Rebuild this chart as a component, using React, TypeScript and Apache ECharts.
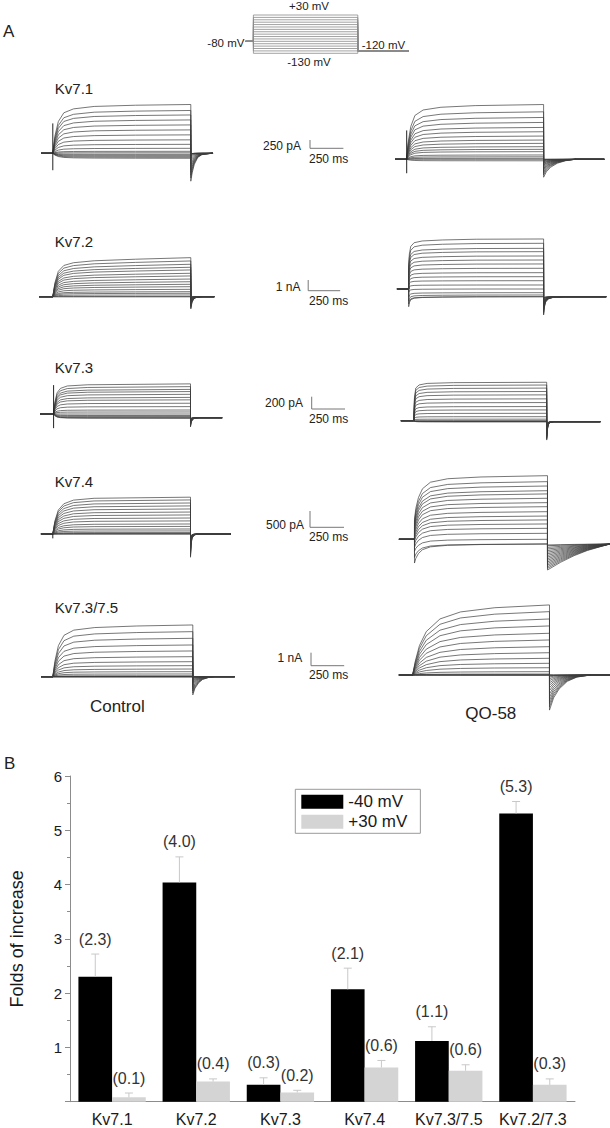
import React, { useEffect, useRef } from "react";
import * as echarts from "echarts";

const FONT = "'Liberation Sans', Arial, Helvetica, sans-serif";

// ---------------- Panel B data ----------------
const channels = ["Kv7.1", "Kv7.2", "Kv7.3", "Kv7.4", "Kv7.3/7.5", "Kv7.2/7.3"];
const fold40 = [2.3, 4.04, 0.31, 2.07, 1.12, 5.31];
const fold30 = [0.08, 0.37, 0.17, 0.63, 0.57, 0.31];
const err40 = [0.42, 0.47, 0.13, 0.39, 0.26, 0.22];
const err30 = [0.08, 0.05, 0.04, 0.13, 0.11, 0.11];
const label40 = ["(2.3)", "(4.0)", "(0.3)", "(2.1)", "(1.1)", "(5.3)"];
const label30 = ["(0.1)", "(0.4)", "(0.2)", "(0.6)", "(0.6)", "(0.3)"];
const seriesNames = ["-40 mV", "+30 mV"];

// ---------------- Panel A: voltage protocol (mV, ms) ----------------
const stepVoltages = [30, 20, 10, 0, -10, -20, -30, -40, -50, -60, -70, -80, -90, -100, -110, -120, -130];
const holdingVoltage = -80;
const tailVoltage = -120;
const protocolTimes = [-75, 0, 1000, 1488];

// ---------------- Panel A: current families (pA), sweeps +30 -> -130 mV ----------------
// Kv7.1
const kv71CtrlSteady = [1470, 1290, 1155, 1005, 855, 705, 555, 405, 270, 150, 60, 15, -30, -60, -90, -120, -150];
const kv71CtrlTail = [-840, -740, -660, -575, -490, -400, -320, -230, -160, -90, -45, -20, -10, -10, -10, -10, -10];
const kv71CtrlRise = [[0, 0], [15, 0.35], [40, 0.65], [80, 0.83], [150, 0.91], [300, 0.96], [600, 0.985], [1000, 1]];
const kv71CtrlTailDecay = [[0, 0], [10, 0.3], [25, 0.6], [50, 0.85], [80, 0.95], [150, 1]];
const kv71CtrlSpike = [900, -510];

const kv71QoSteady = [1650, 1430, 1260, 1110, 960, 830, 700, 580, 480, 380, 300, 230, 130, 75, 30, 0, -45];
const kv71QoTail = [-540, -470, -415, -365, -315, -275, -230, -190, -160, -125, -100, -75, -45, -25, -10, 0, 0];
const kv71QoRise = [[0, 0], [10, 0.3], [30, 0.6], [60, 0.8], [120, 0.9], [250, 0.95], [500, 0.98], [1000, 1]];
const kv71QoTailDecay = [[0, 0], [20, 0.3], [50, 0.55], [100, 0.78], [160, 0.92], [230, 1]];
const kv71QoSpike = [870, -420];

// Kv7.2
const kv72CtrlSteady = [3650, 3340, 3030, 2750, 2500, 2190, 1940, 1650, 1400, 1160, 935, 690, 470, 320, 160, 0, 0];
const kv72CtrlTail = [-1150, -1050, -950, -860, -780, -690, -610, -520, -440, -360, -290, -215, -150, -100, -50, -20, -20];
const kv72CtrlRise = [[0, 0], [15, 0.35], [40, 0.65], [80, 0.8], [150, 0.87], [300, 0.92], [600, 0.96], [1000, 1]];
const kv72CtrlTailDecay = [[0, 0], [8, 0.5], [20, 0.8], [40, 0.95], [80, 1]];

const kv72QoSteady = [4675, 4270, 3800, 3490, 3085, 2710, 2340, 1935, 1525, 1150, 775, 375, 0, -345, -560, -720, -720];
const kv72QoInitial = [2340, 2060, 1870, 1680, 1500, 1310, 1120, 935, 750, 560, 375, 95, -280, -750, -1120, -1400, -1655];
const kv72QoTail = [-2430, -2300, -2150, -2000, -1900, -1800, -1700, -1600, -1500, -1400, -1300, -1200, -1100, -1000, -900, -850, -850];
const kv72QoTailEnd = -720;
const kv72QoRise = [[0, 0], [5, 0.4], [15, 0.7], [40, 0.85], [100, 0.92], [250, 0.96], [500, 0.99], [1000, 1]];
const kv72QoDeact = [[0, 0], [40, 0.3], [100, 0.55], [200, 0.75], [350, 0.88], [600, 0.96], [1000, 1]];
const kv72QoTailDecay = [[0, 0], [5, 0.4], [15, 0.7], [35, 0.88], [70, 0.96], [150, 1]];

// Kv7.3
const kv73CtrlSteady = [490, 445, 400, 365, 320, 270, 230, 175, 120, 65, 33, 0, -25, -40, -55, -65, -70];
const kv73CtrlTail = [-210, -200, -190, -180, -170, -160, -150, -140, -130, -120, -110, -100, -95, -90, -85, -80, -80];
const kv73CtrlTailEnd = -60;
const kv73CtrlRise = [[0, 0], [10, 0.4], [25, 0.7], [50, 0.85], [100, 0.93], [250, 0.97], [1000, 1]];
const kv73CtrlTailDecay = [[0, 0], [5, 0.5], [15, 0.8], [30, 0.95], [60, 1]];
const kv73CtrlSpike = [470, -230];

const kv73QoSteady = [625, 580, 530, 475, 420, 355, 295, 230, 175, 120, 65, 25, 0, -8, -16, -16, -16];
const kv73QoTail = [-315, -300, -285, -270, -255, -240, -225, -210, -195, -180, -165, -150, -135, -120, -105, -90, -80];
const kv73QoTailEnd = -16;
const kv73QoRise = [[0, 0], [5, 0.6], [15, 0.85], [40, 0.93], [100, 0.97], [300, 0.99], [1000, 1]];
const kv73QoTailDecay = [[0, 0], [5, 0.55], [12, 0.85], [25, 0.96], [50, 1]];

// Kv7.4
const kv74CtrlSteady = [1140, 1055, 960, 870, 775, 680, 590, 495, 405, 310, 235, 155, 95, 45, 15, 0, 0];
const kv74CtrlTail = [-720, -680, -640, -600, -560, -520, -480, -440, -400, -360, -320, -280, -240, -200, -160, -120, -100];
const kv74CtrlRise = [[0, 0], [15, 0.35], [40, 0.65], [80, 0.82], [150, 0.92], [300, 0.97], [1000, 1]];
const kv74CtrlTailDecay = [[0, 0], [4, 0.5], [10, 0.8], [25, 0.95], [50, 1]];
const kv74CtrlSpike = [0, -135];

const kv74QoSteady = [1970, 1785, 1650, 1505, 1405, 1270, 1135, 1010, 855, 720, 600, 475, 340, 185, 0, -145, -145];
const kv74QoInitial = [620, 560, 495, 435, 370, 310, 250, 185, 125, 60, 0, -60, -155, -250, -370, -560, -735];
const kv74QoTail = [-950, -900, -850, -800, -750, -700, -650, -600, -550, -500, -450, -400, -350, -300, -250, -200, -175];
const kv74QoTailEnd = -145;
const kv74QoRise = [[0, 0], [10, 0.25], [30, 0.5], [60, 0.7], [120, 0.85], [250, 0.93], [500, 0.97], [1000, 1]];
const kv74QoDeact = [[0, 0], [30, 0.3], [80, 0.6], [150, 0.8], [300, 0.93], [600, 0.98], [1000, 1]];
const kv74QoTailDecay = [[0, 0], [100, 0.3], [200, 0.55], [300, 0.75], [400, 0.9], [470, 1]];

// Kv7.3/7.5
const kv7375CtrlSteady = [3980, 3465, 2955, 2440, 1980, 1540, 1155, 850, 590, 385, 210, 75, 0, 0, 0, 0, 0];
const kv7375CtrlTail = [-1400, -1250, -1100, -950, -800, -650, -520, -400, -300, -210, -130, -60, -20, -10, -10, -10, -10];
const kv7375CtrlRise = [[0, 0], [15, 0.3], [40, 0.6], [80, 0.8], [150, 0.9], [300, 0.95], [600, 0.98], [1000, 1]];
const kv7375CtrlTailDecay = [[0, 0], [15, 0.35], [40, 0.65], [70, 0.85], [110, 0.95], [150, 1]];

const kv7375QoSteady = [5390, 4875, 4310, 3775, 3210, 2695, 2180, 1715, 1285, 900, 560, 255, 75, 0, 0, 0, 0];
const kv7375QoTail = [-2700, -2450, -2200, -1950, -1700, -1450, -1200, -980, -780, -600, -430, -280, -150, -60, -20, -10, -10];
const kv7375QoRise = [[0, 0], [20, 0.2], [50, 0.42], [100, 0.62], [200, 0.8], [350, 0.9], [600, 0.96], [1000, 1]];
const kv7375QoTailDecay = [[0, 0], [30, 0.35], [70, 0.6], [130, 0.82], [200, 0.94], [300, 1]];

// time windows (ms) of each recording
const windowsMs = {
  kv71Ctrl: [-85, 1161], kv71Qo: [-85, 1443],
  kv72Ctrl: [-100, 1170], kv72Qo: [-87, 1464],
  kv73Ctrl: [-97, 1231], kv73Qo: [-97, 1403],
  kv74Ctrl: [-86, 1292], kv74Qo: [-117, 1470],
  kv7375Ctrl: [-84, 1299], kv7375Qo: [-100, 1442],
};

type TracePanel = {
  steady: number[];
  initial?: number[];
  tail: number[];
  tailEnd?: number;
  rise: number[][];
  deact?: number[][];
  tailDecay: number[][];
  spike?: number[];
  win: number[];
  // layout (px)
  x0: number; x1: number; base: number; pxPerPa: number;
};

const tracePanels: TracePanel[] = [
  { steady: kv71CtrlSteady, tail: kv71CtrlTail, rise: kv71CtrlRise, tailDecay: kv71CtrlTailDecay, spike: kv71CtrlSpike, win: windowsMs.kv71Ctrl, x0: 52.8, x1: 190.8, base: 153.3, pxPerPa: 0.0332 },
  { steady: kv71QoSteady, tail: kv71QoTail, rise: kv71QoRise, tailDecay: kv71QoTailDecay, spike: kv71QoSpike, win: windowsMs.kv71Qo, x0: 406.7, x1: 543.6, base: 159.3, pxPerPa: 0.0332 },
  { steady: kv72CtrlSteady, tail: kv72CtrlTail, rise: kv72CtrlRise, tailDecay: kv72CtrlTailDecay, win: windowsMs.kv72Ctrl, x0: 52.8, x1: 190.8, base: 296.7, pxPerPa: 0.0107 },
  { steady: kv72QoSteady, initial: kv72QoInitial, tail: kv72QoTail, tailEnd: kv72QoTailEnd, rise: kv72QoRise, deact: kv72QoDeact, tailDecay: kv72QoTailDecay, win: windowsMs.kv72Qo, x0: 408.7, x1: 543.6, base: 289, pxPerPa: 0.0107 },
  { steady: kv73CtrlSteady, tail: kv73CtrlTail, tailEnd: kv73CtrlTailEnd, rise: kv73CtrlRise, tailDecay: kv73CtrlTailDecay, spike: kv73CtrlSpike, win: windowsMs.kv73Ctrl, x0: 53.6, x1: 190.5, base: 414, pxPerPa: 0.0615 },
  { steady: kv73QoSteady, tail: kv73QoTail, tailEnd: kv73QoTailEnd, rise: kv73QoRise, tailDecay: kv73QoTailDecay, win: windowsMs.kv73Qo, x0: 413.8, x1: 546.7, base: 420.7, pxPerPa: 0.0615 },
  { steady: kv74CtrlSteady, tail: kv74CtrlTail, rise: kv74CtrlRise, tailDecay: kv74CtrlTailDecay, spike: kv74CtrlSpike, win: windowsMs.kv74Ctrl, x0: 52.8, x1: 190.5, base: 534, pxPerPa: 0.0323 },
  { steady: kv74QoSteady, initial: kv74QoInitial, tail: kv74QoTail, tailEnd: kv74QoTailEnd, rise: kv74QoRise, deact: kv74QoDeact, tailDecay: kv74QoTailDecay, win: windowsMs.kv74Qo, x0: 414.5, x1: 547.5, base: 539.3, pxPerPa: 0.0323 },
  { steady: kv7375CtrlSteady, tail: kv7375CtrlTail, rise: kv7375CtrlRise, tailDecay: kv7375CtrlTailDecay, win: windowsMs.kv7375Ctrl, x0: 52.8, x1: 192.8, base: 676.7, pxPerPa: 0.013 },
  { steady: kv7375QoSteady, tail: kv7375QoTail, rise: kv7375QoRise, tailDecay: kv7375QoTailDecay, win: windowsMs.kv7375Qo, x0: 412.6, x1: 549.5, base: 675, pxPerPa: 0.013 },
];

function buildTrace(p: TracePanel, j: number): number[][] {
  const pts: number[][] = [];
  const S = p.steady[j];
  const I0 = p.initial ? p.initial[j] : 0;
  pts.push([p.win[0], 0], [0, 0]);
  const prof = p.deact && S < I0 ? p.deact : p.rise;
  prof.forEach(([t, f]) => pts.push([t, I0 + (S - I0) * f]));
  const P = p.tail[j];
  const F = p.tailEnd ?? 0;
  p.tailDecay.forEach(([t, f]) => pts.push([1000 + t, P + (F - P) * f]));
  pts.push([p.win[1], F]);
  return pts;
}

function txt(text: string, x: number, y: number, size: number, align = "left", color = "#222") {
  return {
    type: "text",
    x,
    y,
    silent: true,
    style: {
      text,
      fill: color,
      font: `${size}px ${FONT}`,
      align,
      textAlign: align,
      verticalAlign: "middle",
      textVerticalAlign: "middle",
    },
  };
}

function seg(x1: number, y1: number, x2: number, y2: number, color = "#777", w = 1) {
  return { type: "line", silent: true, shape: { x1, y1, x2, y2 }, style: { stroke: color, lineWidth: w } };
}

function buildOption() {
  const grids: any[] = [];
  const xAxes: any[] = [];
  const yAxes: any[] = [];
  const series: any[] = [];

  // protocol grid (index 0)
  const pX0 = 253.4, pX1 = 357.8, pk = (pX1 - pX0) / 1000;
  const mvPx = 38.3 / 160;
  grids.push({ left: pX0 + protocolTimes[0] * pk, width: (protocolTimes[3] - protocolTimes[0]) * pk, top: 15 - 10 * mvPx, height: 180 * mvPx });
  xAxes.push({ type: "value", gridIndex: 0, min: protocolTimes[0], max: protocolTimes[3], show: false });
  yAxes.push({ type: "value", gridIndex: 0, min: -140, max: 40, show: false });
  stepVoltages.forEach((v) => {
    series.push({
      type: "line", xAxisIndex: 0, yAxisIndex: 0, symbol: "none", silent: true, clip: false,
      lineStyle: { color: "#8a8a8a", width: 0.8 },
      data: [
        [protocolTimes[0], holdingVoltage], [protocolTimes[1], holdingVoltage], [protocolTimes[1], v],
        [protocolTimes[2], v], [protocolTimes[2], tailVoltage], [protocolTimes[3], tailVoltage],
      ],
    });
  });

  // trace grids 1..10
  tracePanels.forEach((p, i) => {
    const gi = i + 1;
    const k = (p.x1 - p.x0) / 1000;
    grids.push({ left: p.x0 + p.win[0] * k, width: (p.win[1] - p.win[0]) * k, top: p.base - 90, height: 140 });
    xAxes.push({ type: "value", gridIndex: gi, min: p.win[0], max: p.win[1], show: false });
    yAxes.push({ type: "value", gridIndex: gi, min: -50 / p.pxPerPa, max: 90 / p.pxPerPa, show: false });
    p.steady.forEach((_, j) => {
      series.push({
        type: "line", xAxisIndex: gi, yAxisIndex: gi, symbol: "none", silent: true, clip: false,
        lineStyle: { color: "#3c3c3c", width: 0.7 },
        data: buildTrace(p, j),
      });
    });
    if (p.spike) {
      series.push({
        type: "line", xAxisIndex: gi, yAxisIndex: gi, symbol: "none", silent: true, clip: false,
        lineStyle: { color: "#222", width: 1 },
        data: [[0, p.spike[0]], [0, p.spike[1]]],
      });
    }
  });

  // bar chart grid 11
  const bi = 11;
  grids.push({ left: 62, top: 776, width: 513, height: 325.7 });
  xAxes.push({
    type: "category", gridIndex: bi, data: channels,
    axisLine: { lineStyle: { color: "#8c8c8c", width: 1 } },
    axisTick: { show: false },
    axisLabel: { color: "#1a1a1a", fontSize: 16, fontFamily: FONT, margin: 10, interval: 0 },
  });
  yAxes.push({
    type: "value", gridIndex: bi, min: 0, max: 6, interval: 1,
    name: "Folds of increase", nameLocation: "middle", nameGap: 44,
    nameTextStyle: { color: "#1a1a1a", fontSize: 18, fontFamily: FONT },
    axisLine: { show: true, lineStyle: { color: "#8c8c8c", width: 1 } },
    axisTick: { show: true, length: 5, lineStyle: { color: "#8c8c8c" } },
    minorTick: { show: true, splitNumber: 2, length: 3, lineStyle: { color: "#8c8c8c" } },
    splitLine: { show: false },
    axisLabel: { color: "#1a1a1a", fontSize: 15, fontFamily: FONT, margin: 8, formatter: (v: number) => (v === 0 ? "" : String(v)) },
  });
  series.push({
    type: "bar", name: seriesNames[0], xAxisIndex: bi, yAxisIndex: bi, data: fold40,
    barGap: "0%", barCategoryGap: "20%", itemStyle: { color: "#000" }, silent: true,
  });
  series.push({
    type: "bar", name: seriesNames[1], xAxisIndex: bi, yAxisIndex: bi, data: fold30,
    barGap: "0%", barCategoryGap: "20%", itemStyle: { color: "#d4d4d4" }, silent: true,
  });
  const errSeries = (vals: number[], errs: number[], labels: string[], side: number) => ({
    type: "custom", xAxisIndex: bi, yAxisIndex: bi, silent: true, z: 5,
    data: vals.map((v, i) => [i, v, errs[i]]),
    encode: { x: 0, y: 1 },
    renderItem: (params: any, api: any) => {
      const idx = api.value(0);
      const v = api.value(1);
      const e = api.value(2);
      const c = api.coord([idx, v]);
      const t = api.coord([idx, v + e]);
      const band = api.size([1, 0])[0];
      const x = c[0] + side * 0.2 * band;
      return {
        type: "group",
        children: [
          { type: "line", shape: { x1: x, y1: c[1], x2: x, y2: t[1] }, style: { stroke: "#c8c8c8", lineWidth: 1 } },
          { type: "line", shape: { x1: x - 4, y1: t[1], x2: x + 4, y2: t[1] }, style: { stroke: "#c8c8c8", lineWidth: 1 } },
          {
            type: "text", x, y: t[1] - 7,
            style: { text: labels[idx], fill: "#333", font: `16px ${FONT}`, align: "center", verticalAlign: "bottom", textAlign: "center", textVerticalAlign: "bottom" },
          },
        ],
      };
    },
  });
  series.push(errSeries(fold40, err40, label40, -1));
  series.push(errSeries(fold30, err30, label30, 1));

  const graphic: any[] = [
    txt("A", 3, 31.7, 17),
    txt("+30 mV", 309, 6, 11.5, "center"),
    txt("-80 mV", 244.4, 42.5, 11.5, "right"),
    txt("-130 mV", 309, 62, 11.5, "center"),
    txt("-120 mV", 361.7, 45, 11.5, "left"),
    txt("Kv7.1", 54.8, 88, 15),
    txt("Kv7.2", 54.8, 241, 15),
    txt("Kv7.3", 54.8, 367.3, 15),
    txt("Kv7.4", 54.8, 481.7, 15),
    txt("Kv7.3/7.5", 54.8, 607.3, 15),
    // scale bars
    txt("250 pA", 301, 145.7, 12, "right"), seg(310, 140, 310, 148.3), seg(310, 148.3, 343.4, 148.3), txt("250 ms", 309, 159, 12),
    txt("1 nA", 300.4, 286.7, 12, "right"), seg(308.2, 280, 308.2, 290.7), seg(308.2, 290.7, 340.2, 290.7), txt("250 ms", 309, 300.7, 12),
    txt("200 pA", 303, 402.7, 12, "right"), seg(311.7, 396.7, 311.7, 409), seg(311.7, 409, 345, 409), txt("250 ms", 309, 419.3, 12),
    txt("500 pA", 304, 525, 12, "right"), seg(310, 511, 310, 527.3), seg(310, 527.3, 344, 527.3), txt("250 ms", 309, 537.3, 12),
    txt("1 nA", 302.3, 658.3, 12, "right"), seg(311, 652.7, 311, 665.7), seg(311, 665.7, 344.2, 665.7), txt("250 ms", 309, 675, 12),
    txt("Control", 117.3, 706.7, 17, "center"),
    txt("QO-58", 490.8, 713.3, 17, "center"),
    txt("B", 4, 763, 17),
  ];

  return {
    animation: false,
    backgroundColor: "#fff",
    textStyle: { fontFamily: FONT },
    grid: grids,
    xAxis: xAxes,
    yAxis: yAxes,
    legend: {
      data: seriesNames,
      orient: "vertical",
      left: 295.3,
      top: 789.3,
      itemWidth: 42,
      itemHeight: 14,
      itemGap: 3,
      icon: "rect",
      padding: [4, 13, 3, 6],
      borderColor: "#9a9a9a",
      borderWidth: 1,
      selectedMode: false,
      textStyle: { color: "#1a1a1a", fontSize: 17, fontFamily: FONT },
    },
    graphic,
    series,
  };
}

export default function App() {
  const ref = useRef<HTMLDivElement>(null);
  useEffect(() => {
    document.body.style.margin = "0";
    const chart = echarts.init(ref.current!, null, { renderer: "svg" });
    chart.setOption(buildOption() as any);
    return () => chart.dispose();
  }, []);
  return (
    <div
      ref={ref}
      style={{ position: "absolute", left: 0, top: 0, width: 610, height: 1128, background: "#fff" }}
    />
  );
}
